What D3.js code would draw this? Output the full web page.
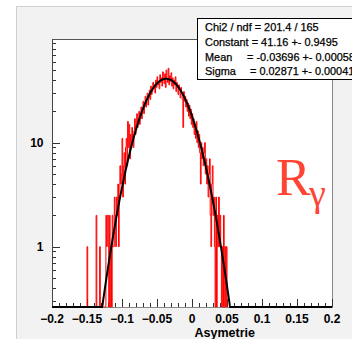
<!DOCTYPE html>
<html><head><meta charset="utf-8">
<script src="https://cdn.jsdelivr.net/npm/d3@7"></script>
<style>html,body{margin:0;padding:0;background:#fff;}svg{display:block;}</style>
</head><body>
<svg id="c" width="352" height="339"></svg>
<script>
// ---- data ----
const binStart = -0.150;
const binWidth = 0.001;
const counts = [
 1,0,0,0,0,0,0,0,0,0,
 0,0,0,2,0,0,0,0,1,0,
 0,0,0,0,0,0,0,2,1,2,
 2,0,2,0,1,0,2,1,1,3,
 2,1,3,2,4,1,3,6,4,5,
 11,3,6,8,4,9,11,6,16,9,
 15,7,12,10,14,11,9,13,17,12,
 15,19,14,16,20,15,18,22,17,21,
 25,19,24,28,22,26,30,23,27,32,
 26,35,29,31,38,33,36,30,40,34,
 43,36,39,33,45,38,42,35,48,40,
 37,46,34,50,41,38,52,36,44,39,
 47,35,42,33,40,36,43,31,38,34,
 29,36,32,27,34,30,26,14,31,25,
 28,22,26,20,24,18,23,17,21,15,
 19,14,17,12,15,11,16,10,13,9,
 12,8,4,10,7,9,6,8,10,5,
 7,4,6,3,5,7,2,1,4,6,
 2,3,1,0,3,0,2,1,3,1,
 2,1,0,1,0,2,0,1,0,1,
 0
];
const fitConstant = 41.16, fitMean = -0.03696, fitSigma = 0.02871;
const xTickLabels = ["\u22120.2","\u22120.15","\u22120.1","\u22120.05","0","0.05","0.1","0.15","0.2"];
const xTickValues = [-0.2,-0.15,-0.1,-0.05,0,0.05,0.1,0.15,0.2];
const yTickValues = [1,10];
const yTickLabels = ["1","10"];
const statsLines = [
  ["Chi2 / ndf = 201.4 / 165", ""],
  ["Constant = 41.16 +- 0.9495", ""],
  ["Mean", "= -0.03696 +- 0.000585"],
  ["Sigma", "= 0.02871 +- 0.000415"]
];
const xTitle = "Asymetrie";

// ---- layout ----
const svg = d3.select("#c");
const L = 52, R = 332, T = 39, B = 307;
const x = d3.scaleLinear().domain([-0.2, 0.2]).range([L, R]);
const y = d3.scaleLog().domain([0.263, 99.3]).range([B, T]);
const ymin = y.domain()[0];

// pad
svg.append("rect").attr("x",16.5).attr("y",6.5).attr("width",340).attr("height",340)
  .attr("fill","#f2f2f2").attr("stroke","#cfcfcf").attr("stroke-width",1);
// frame
svg.append("rect").attr("x",L).attr("y",T).attr("width",R-L).attr("height",B-T).attr("fill","#fff");
svg.append("line").attr("x1",L).attr("x2",R+1).attr("y1",T+0.5).attr("y2",T+0.5).attr("stroke","#555");
svg.append("line").attr("x1",R+0.5).attr("x2",R+0.5).attr("y1",T).attr("y2",B).attr("stroke","#888");

const defs = svg.append("defs");
defs.append("clipPath").attr("id","clip").append("rect")
  .attr("x",L).attr("y",T).attr("width",R-L).attr("height",B-T+2);

// x ticks
const xt = svg.append("g").attr("stroke","#333").attr("stroke-width",1);
d3.range(-20, 21).forEach(k => {
  const v = k/100;
  const major = (k % 5 === 0);
  const px = Math.round(x(v)) + 0.5;
  xt.append("line").attr("x1",px).attr("x2",px).attr("y1",B).attr("y2",B-(major?8:4));
});
// y ticks
const yt = svg.append("g").attr("stroke","#333").attr("stroke-width",1);
const yMinor = [];
[0.1,1,10].forEach(dec => { for (let m=1;m<=9;m++){ const v=dec*m; if (v>=ymin && v<=y.domain()[1]) yMinor.push(v);} });
yMinor.forEach(v => {
  const major = yTickValues.includes(v);
  const py = Math.round(y(v)) + 0.5;
  yt.append("line").attr("x1",L).attr("x2",L+(major?8:4)).attr("y1",py).attr("y2",py);
});

// axis lines
svg.append("line").attr("x1",L).attr("x2",R+1).attr("y1",B+0.5).attr("y2",B+0.5).attr("stroke","#888");
svg.append("line").attr("x1",L+0.5).attr("x2",L+0.5).attr("y1",T).attr("y2",B+1).attr("stroke","#444");

// histogram
const pts = [[x(binStart), y(ymin)]];
counts.forEach((c,i) => {
  const v = Math.max(c, ymin);
  const x0 = x(binStart + i*binWidth), x1 = x(binStart + (i+1)*binWidth);
  pts.push([x0, y(v)]); pts.push([x1, y(v)]);
});
pts.push([x(binStart + counts.length*binWidth), y(ymin)]);
svg.append("path").attr("clip-path","url(#clip)")
  .attr("d", d3.line()(pts)).attr("fill","none").attr("stroke","#ff0000").attr("stroke-width",1);

// fit curve
const fx = d3.range(0, 801).map(i => -0.2 + i*0.4/800);
const fpts = fx.map(v => {
  const f = fitConstant*Math.exp(-0.5*Math.pow((v-fitMean)/fitSigma,2));
  return [x(v), y(Math.max(f, ymin))];
});
svg.append("path").attr("clip-path","url(#clip)")
  .attr("d", d3.line()(fpts)).attr("fill","none").attr("stroke","#000").attr("stroke-width",2);

// tick labels
const lab = svg.append("g").attr("font-family","'Liberation Sans',Arial,sans-serif")
  .attr("font-weight","bold").attr("font-size",12).attr("fill","#000");
xTickValues.forEach((v,i) => {
  lab.append("text").attr("x",x(v)).attr("y",323).attr("text-anchor","middle").text(xTickLabels[i]);
});
yTickValues.forEach((v,i) => {
  lab.append("text").attr("x",43.5).attr("y",y(v)+4.5).attr("text-anchor","end").text(yTickLabels[i]);
});
lab.append("text").attr("x",255).attr("y",337).attr("text-anchor","end").attr("font-size",12.5).text(xTitle);

// R gamma
const rg = svg.append("g").attr("font-family","'Liberation Serif','Times New Roman',serif").attr("fill","#ff4433");
rg.append("text").attr("x",276).attr("y",195).attr("font-size",52).text("R");
rg.append("text").attr("x",309).attr("y",206).attr("font-size",38).text("\u03b3");

// stats box
svg.append("rect").attr("x",197.5).attr("y",18.5).attr("width",170).attr("height",61)
  .attr("fill","#fff").attr("stroke","#000").attr("stroke-width",1);
const st = svg.append("g").attr("font-family","'Liberation Sans',Arial,sans-serif")
  .attr("font-size",11).attr("fill","#000").attr("stroke","#000").attr("stroke-width",0.25);
// size the stats font so the "Constant" line spans the same width as in the reference
const probe = st.append("text").attr("x",0).attr("y",-50).text(statsLines[1][0]);
const len = probe.node().getComputedTextLength();
probe.remove();
const fs = Math.min(12.5, Math.max(10, 11*133/len));
st.attr("font-size", fs);
const baselines = [30.5, 45.5, 60.5, 75];
statsLines.forEach((ln,i) => {
  st.append("text").attr("x",205).attr("y",baselines[i]).text(ln[0]);
  if (ln[1]) st.append("text").attr("x", i===2 ? 247 : 250).attr("y",baselines[i]).text(ln[1]);
});
</script>
</body></html>
